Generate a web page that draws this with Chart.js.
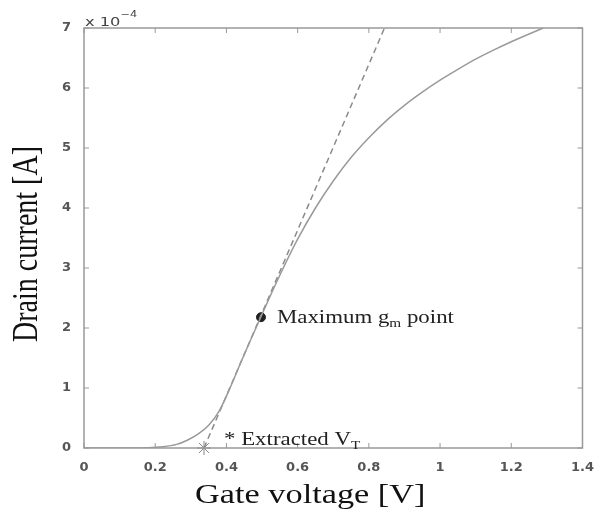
<!DOCTYPE html>
<html>
<head>
<meta charset="utf-8">
<script src="https://cdn.jsdelivr.net/npm/chart.js@4/dist/chart.umd.min.js"></script>
<style>
  body { margin: 0; background: #fff; }
  canvas { display: block; }
</style>
</head>
<body>
<canvas id="idvgChart" width="598" height="512"></canvas>
<script>
// Id-Vg curve (current in units of 1e-4 A)
const gateVoltage = [0, 0.10, 0.18, 0.22, 0.26, 0.29, 0.32, 0.35, 0.38, 0.41, 0.44, 0.47, 0.50,
  0.55, 0.60, 0.65, 0.70, 0.75, 0.80, 0.85, 0.90, 0.95, 1.00, 1.05, 1.10, 1.15, 1.20, 1.25, 1.29];
const drainCurrent = [0, 0, 0.005, 0.02, 0.06, 0.13, 0.23, 0.38, 0.62, 1.00, 1.42, 1.83, 2.23,
  2.88, 3.48, 4.00, 4.45, 4.84, 5.17, 5.46, 5.71, 5.93, 6.13, 6.31, 6.48, 6.63, 6.77, 6.90, 7.00];

// tangent line through the max gm point, down to the extracted VT
const tangentV = [0.337, 0.844];
const tangentI = [0, 7];
const maxGmPoint = [0.497, 2.18];
const vtPoint = [0.337, 0];

const xTicks = [0, 0.2, 0.4, 0.6, 0.8, 1, 1.2, 1.4];
const yTicks = [0, 1, 2, 3, 4, 5, 6, 7];

const toXY = (xs, ys) => xs.map((x, i) => ({ x: x, y: ys[i] }));

// draw text horizontally stretched (the figure is squashed sideways)
function stretchText(ctx, parts, x, y, sx) {
  ctx.save();
  ctx.translate(x, y);
  ctx.scale(sx, 1);
  let cx = 0;
  parts.forEach(p => {
    ctx.font = p.font;
    ctx.fillText(p.t, cx, p.dy || 0);
    cx += ctx.measureText(p.t).width;
  });
  ctx.restore();
}

const matlabFrame = {
  id: 'matlabFrame',
  afterDraw(chart) {
    const ctx = chart.ctx;
    const a = chart.chartArea;
    const xs = chart.scales.x, ys = chart.scales.y;
    ctx.save();
    // box
    ctx.strokeStyle = '#999';
    ctx.lineWidth = 1.5;
    ctx.strokeRect(a.left, a.top, a.right - a.left, a.bottom - a.top);
    // inward ticks
    ctx.lineWidth = 1;
    ctx.beginPath();
    xTicks.forEach(v => {
      const px = xs.getPixelForValue(v);
      ctx.moveTo(px, a.bottom); ctx.lineTo(px, a.bottom - 5);
      ctx.moveTo(px, a.top); ctx.lineTo(px, a.top + 5);
    });
    yTicks.forEach(v => {
      const py = ys.getPixelForValue(v);
      ctx.moveTo(a.left, py); ctx.lineTo(a.left + 5, py);
      ctx.moveTo(a.right, py); ctx.lineTo(a.right - 5, py);
    });
    ctx.stroke();

    // exponent
    ctx.fillStyle = '#444';
    ctx.textAlign = 'left';
    ctx.textBaseline = 'alphabetic';
    stretchText(ctx, [
      { t: 'x 10', font: '13px "DejaVu Sans"' },
      { t: '\u22124', font: '9px "DejaVu Sans"', dy: -9 }
    ], a.left + 1, a.top - 2, 1.25);

    // annotations
    ctx.fillStyle = '#222';
    const gx = xs.getPixelForValue(maxGmPoint[0]);
    const gy = ys.getPixelForValue(maxGmPoint[1]);
    stretchText(ctx, [
      { t: 'Maximum g', font: '18px "Liberation Serif"' },
      { t: 'm', font: '12px "Liberation Serif"', dy: 4 },
      { t: ' point', font: '18px "Liberation Serif"' }
    ], gx + 16, gy + 6, 1.27);

    const vx = xs.getPixelForValue(vtPoint[0]);
    const vy = ys.getPixelForValue(vtPoint[1]);
    stretchText(ctx, [
      { t: '* Extracted V', font: '18px "Liberation Serif"' },
      { t: 'T', font: '12px "Liberation Serif"', dy: 4 }
    ], vx + 20, vy - 3, 1.27);

    // axis titles
    ctx.fillStyle = '#111';
    ctx.textAlign = 'center';
    ctx.font = '27px "Liberation Serif"';
    ctx.save();
    ctx.translate((a.left + a.right) / 2 - 23, 503);
    ctx.scale(1.27, 1);
    ctx.fillText('Gate voltage [V]', 0, 0);
    ctx.restore();

    ctx.font = '28px "Liberation Serif"';
    ctx.save();
    ctx.translate(37, 244);
    ctx.scale(1.27, 1);
    ctx.rotate(-Math.PI / 2);
    ctx.fillText('Drain current [A]', 0, 0);
    ctx.restore();
    ctx.restore();
  }
};

new Chart(document.getElementById('idvgChart'), {
  type: 'scatter',
  data: {
    datasets: [
      {
        label: 'Id',
        data: toXY(gateVoltage, drainCurrent),
        showLine: true,
        borderColor: '#9a9a9a',
        borderWidth: 1.5,
        pointRadius: 0,
        cubicInterpolationMode: 'monotone'
      },
      {
        label: 'tangent',
        data: toXY(tangentV, tangentI),
        showLine: true,
        borderColor: '#8a8a8a',
        borderWidth: 1.5,
        borderDash: [6, 4],
        pointRadius: 0
      },
      {
        label: 'max gm',
        data: [{ x: maxGmPoint[0], y: maxGmPoint[1] }],
        pointRadius: 4.5,
        backgroundColor: '#222',
        borderColor: '#222',
        clip: false
      },
      {
        label: 'VT',
        data: [{ x: vtPoint[0], y: vtPoint[1] }],
        pointStyle: 'star',
        pointRadius: 7,
        borderColor: '#888',
        borderWidth: 1,
        clip: false
      }
    ]
  },
  options: {
    responsive: false,
    animation: false,
    layout: { padding: { top: 28, right: 12, left: 0, bottom: 0 } },
    plugins: {
      legend: { display: false },
      tooltip: { enabled: false }
    },
    scales: {
      x: {
        type: 'linear',
        min: 0,
        max: 1.4,
        afterFit: s => { s.height = 64; },
        afterBuildTicks: s => { s.ticks = xTicks.map(v => ({ value: v })); },
        grid: { display: false },
        border: { display: false },
        ticks: {
          padding: 4,
          color: '#555',
          font: { family: 'DejaVu Sans', size: 13, weight: 'bold' },
          callback: v => String(+v.toFixed(1))
        }
      },
      y: {
        type: 'linear',
        min: 0,
        max: 7,
        afterFit: s => { s.width = 84; },
        afterBuildTicks: s => { s.ticks = yTicks.map(v => ({ value: v })); },
        grid: { display: false },
        border: { display: false },
        ticks: {
          padding: 5,
          color: '#555',
          font: { family: 'DejaVu Sans', size: 13, weight: 'bold' }
        }
      }
    }
  },
  plugins: [matlabFrame]
});
</script>
</body>
</html>
